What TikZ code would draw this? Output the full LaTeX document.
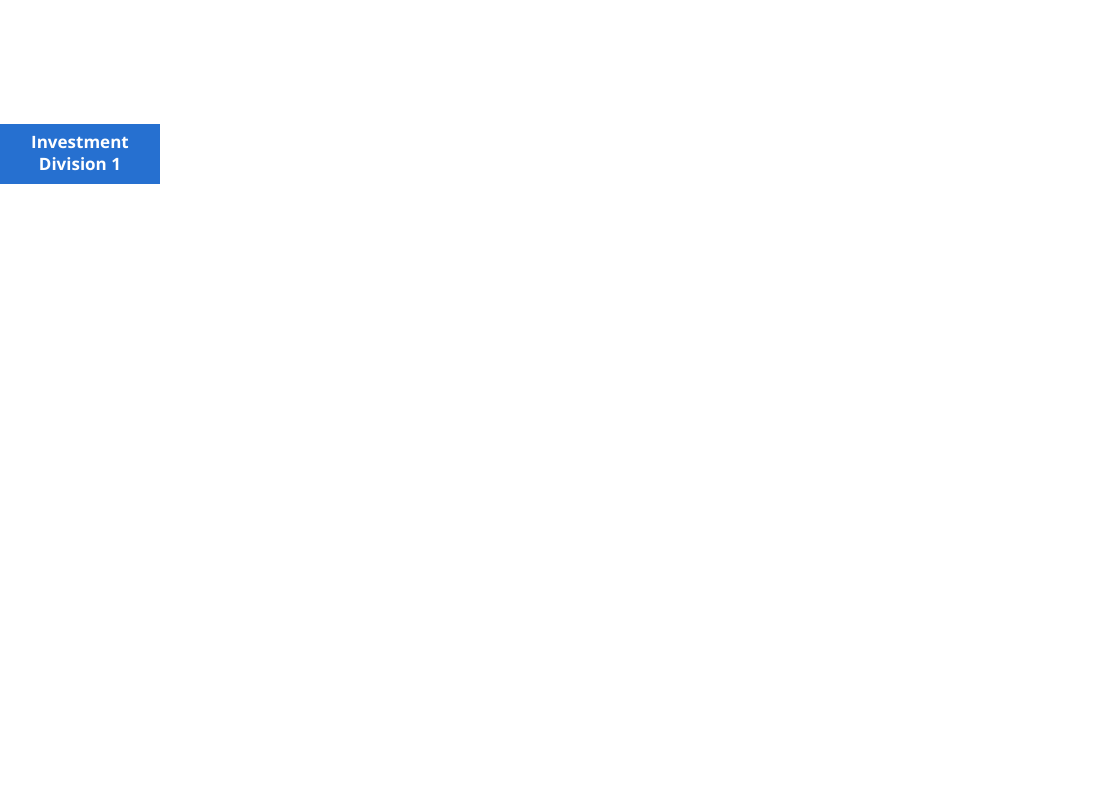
\documentclass[tikz,border=0pt]{standalone}
\usepackage{fontspec}
\setmainfont{Open Sans}
\usepackage{tikz}
\usetikzlibrary{positioning}
\definecolor{divblue}{HTML}{2670D0}

\begin{document}
\begin{tikzpicture}[x=1pt, y=-1pt,
    division/.style={fill=divblue, draw=none, text=white, font=\fontsize{17}{22}\selectfont\bfseries,
      minimum width=160pt, minimum height=60pt, inner sep=0pt, align=center}]
      \useasboundingbox (0,0) rectangle (1100,810);
      \node[division] (div1) at (80, 154) {Investment\\Division 1};
    \end{tikzpicture}
\end{document}
